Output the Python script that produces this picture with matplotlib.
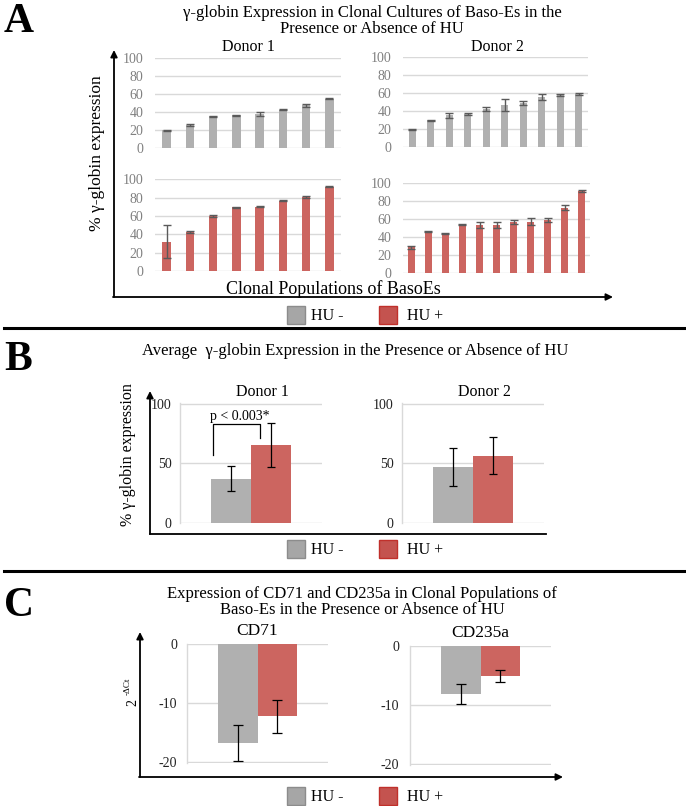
import numpy as np
import matplotlib
matplotlib.use('Agg')
import matplotlib.pyplot as plt
from matplotlib.patches import Rectangle

plt.rcParams['font.family'] = ['Liberation Serif', 'DejaVu Serif']
plt.rcParams['axes.unicode_minus'] = False

# ---- datos ----
# Panel A: expresion de gamma-globina por clon
a_d1_minus = [20, 25.5, 35.5, 36.5, 38, 42.5, 47.5, 55]
a_d1_minus_err = [0.5, 1, 0.5, 0.3, 1.8, 0.5, 1.8, 0.5]
a_d1_plus = [32, 43, 60, 69.5, 70, 77, 81, 92]
a_d1_plus_err = [18, 1.2, 1, 0.5, 0.5, 1, 1.2, 0.5]
a_d2_minus = [19.5, 30, 35.5, 36.5, 42, 47, 49, 56, 58.5, 59]
a_d2_minus_err = [1, 0.5, 3, 1, 2.2, 6.5, 2.5, 3, 1, 1]
a_d2_plus = [28.5, 46, 44, 54, 54, 54, 57, 57.5, 59, 73, 92]
a_d2_plus_err = [1.5, 0.5, 0.5, 0.3, 3.5, 3.5, 2, 3.5, 2.5, 3, 1.2]

# Panel B: promedio
b_d1 = [37, 65]
b_d1_err = [10.5, 18.5]
b_d2 = [47, 56.5]
b_d2_err = [16, 15.5]

# Panel C: 2^-dCt
c_cd71 = [-16.8, -12.3]
c_cd71_err = [3, 2.8]
c_cd235a = [-8.1, -5.1]
c_cd235a_err = [1.7, 0.95]

groups = ['HU -', 'HU +']
donors = ['Donor 1', 'Donor 2']
markers_c = ['CD71', 'CD235a']

GRAY = '#b0b0b0'
RED = '#cc6560'
GRID = '#d9d9d9'

W, H = 686, 806
fig = plt.figure(figsize=(W / 100, H / 100), dpi=100)

# capa para anotaciones en pixeles
ov = fig.add_axes([0, 0, 1, 1], zorder=0)
ov.set_xlim(0, W)
ov.set_ylim(H, 0)
ov.axis('off')


def px_axes(left, top, right, bottom):
    return fig.add_axes([left / W, 1 - bottom / H, (right - left) / W, (bottom - top) / H], zorder=2)


def estilo(ax, ticks, color, pad, spine=False):
    ax.set_facecolor('none')
    for s in ax.spines.values():
        s.set_visible(False)
    if spine:
        ax.spines['left'].set_visible(True)
        ax.spines['left'].set_color(GRID)
        ax.spines['left'].set_linewidth(1)
    ax.set_yticks(ticks)
    ax.set_xticks([])
    ax.yaxis.grid(True, color=GRID, linewidth=1)
    ax.set_axisbelow(True)
    ax.tick_params(axis='y', length=0, pad=pad, labelsize=10, labelcolor=color)


def barras_clon(ax, vals, errs, color, width):
    x = np.arange(len(vals))
    ax.bar(x, vals, width=width, color=color, zorder=2)
    ax.errorbar(x, vals, yerr=errs, fmt='none', ecolor='#5a5a5a', elinewidth=1,
                capsize=3, capthick=1, zorder=3)
    ax.set_xlim(-0.5, len(vals) - 0.5)
    ax.set_ylim(0, 100.5)
    estilo(ax, [0, 20, 40, 60, 80, 100], '#808080', 8.5)


# ---------------- Panel A ----------------
ax = px_axes(155, 58, 341, 148)
barras_clon(ax, a_d1_minus, a_d1_minus_err, GRAY, 0.36)
ax = px_axes(155, 179, 341, 271)
barras_clon(ax, a_d1_plus, a_d1_plus_err, RED, 0.36)
ax = px_axes(403, 57, 588, 147)
barras_clon(ax, a_d2_minus, a_d2_minus_err, GRAY, 0.37)
ax = px_axes(403, 183, 590, 273)
barras_clon(ax, a_d2_plus, a_d2_plus_err, RED, 0.39)

ov.text(19, 22, 'A', fontsize=30, fontweight='bold', ha='center', va='center')
ov.text(372, 21, 'γ-globin Expression in Clonal Cultures of Baso-Es in the\nPresence or Absence of HU',
        fontsize=12, ha='center', va='center', linespacing=1.05)
ov.text(248, 47, donors[0], fontsize=11.5, ha='center', va='center')
ov.text(497, 47, donors[1], fontsize=11.5, ha='center', va='center')
ov.text(97, 153, '% γ-globin expression', fontsize=12.5, rotation=90, ha='center', va='center')
ov.text(333, 289, 'Clonal Populations of BasoEs', fontsize=13, ha='center', va='center')
ov.annotate('', xy=(114, 50), xytext=(114, 297),
            arrowprops=dict(arrowstyle='-|>', color='black', lw=1.3, mutation_scale=10, shrinkA=0, shrinkB=0))
ov.annotate('', xy=(613, 297), xytext=(113, 297),
            arrowprops=dict(arrowstyle='-|>', color='black', lw=1.3, mutation_scale=10, shrinkA=0, shrinkB=0))


def leyenda(yc):
    for x0, tx, lab, fc, ec in [(287, 311, groups[0], '#a6a6a6', '#8c8c8c'),
                                (379, 407, groups[1], '#c4534f', '#c0302b')]:
        ov.add_patch(Rectangle((x0, yc - 9), 18, 18, facecolor=fc, edgecolor=ec, lw=1))
        ov.text(tx, yc + 1, lab, fontsize=11.5, ha='left', va='center')


leyenda(315)
ov.plot([4, 686], [328, 328], color='black', lw=2.2)

# ---------------- Panel B ----------------
ov.text(18, 360, 'B', fontsize=30, fontweight='bold', ha='center', va='center')
ov.text(142, 351, 'Average  γ-globin Expression in the Presence or Absence of HU',
        fontsize=12, ha='left', va='center')
ov.text(128, 455, '% γ-globin expression', fontsize=11.5, rotation=90, ha='center', va='center')

bw = 0.56
for (left, right, vals, errs, name) in [(180, 322, b_d1, b_d1_err, donors[0]),
                                        (402, 544, b_d2, b_d2_err, donors[1])]:
    ax = px_axes(left, 403, right, 523)
    ax.bar([-bw / 2, bw / 2], vals, width=bw, color=[GRAY, RED], zorder=2)
    ax.errorbar([-bw / 2, bw / 2], vals, yerr=errs, fmt='none', ecolor='black', elinewidth=0.9,
                capsize=3, capthick=0.9, zorder=3)
    ax.set_xlim(-1, 1)
    ax.set_ylim(0, 100.5)
    estilo(ax, [0, 50, 100], '#222222', 6, spine=True)
    ov.text((left + right) / 2 + 11, 392, name, fontsize=11.5, ha='center', va='center')
    if name == donors[0]:
        # corchete de significancia
        ax.plot([-0.53, -0.53, 0.12, 0.12], [57, 82.5, 82.5, 71], color='black', lw=0.9, zorder=4)
        ax.text(-0.16, 89, 'p < 0.003*', fontsize=10, ha='center', va='center')

ov.annotate('', xy=(150, 391), xytext=(150, 534),
            arrowprops=dict(arrowstyle='-|>', color='black', lw=1.3, mutation_scale=10, shrinkA=0, shrinkB=0))
ov.plot([150, 546], [534, 534], color='black', lw=1.3)
leyenda(549)
ov.plot([4, 686], [571, 571], color='black', lw=2.2)

# ---------------- Panel C ----------------
ov.text(19, 606, 'C', fontsize=30, fontweight='bold', ha='center', va='center')
ov.text(362, 602, 'Expression of CD71 and CD235a in Clonal Populations of\nBaso-Es in the Presence or Absence of HU',
        fontsize=12, ha='center', va='center', linespacing=1.05)
ov.text(133, 702, '2', fontsize=10, rotation=90, ha='center', va='center')
ov.text(128, 686, '-ΔCt', fontsize=6.5, rotation=90, ha='center', va='center')

for (left, top, right, bottom, vals, errs, name, pad) in [
        (187, 644, 328, 763, c_cd71, c_cd71_err, markers_c[0], 7),
        (410, 646, 551, 765, c_cd235a, c_cd235a_err, markers_c[1], 8)]:
    ax = px_axes(left, top, right, bottom)
    ax.bar([-bw / 2, bw / 2], vals, width=bw, color=[GRAY, RED], zorder=2)
    ax.errorbar([-bw / 2, bw / 2], vals, yerr=errs, fmt='none', ecolor='black', elinewidth=0.9,
                capsize=3.5, capthick=0.9, zorder=3)
    ax.set_xlim(-1, 1)
    ax.set_ylim(-20.2, 0)
    estilo(ax, [-20, -10, 0], '#222222', pad, spine=True)
    ov.text((left + right) / 2, top - 13, name, fontsize=12.5, ha='center', va='center')

ov.annotate('', xy=(140, 632), xytext=(140, 777),
            arrowprops=dict(arrowstyle='-|>', color='black', lw=1.3, mutation_scale=10, shrinkA=0, shrinkB=0))
ov.annotate('', xy=(563, 777), xytext=(139, 777),
            arrowprops=dict(arrowstyle='-|>', color='black', lw=1.3, mutation_scale=10, shrinkA=0, shrinkB=0))
leyenda(796)

fig.savefig('out.png', dpi=100)
